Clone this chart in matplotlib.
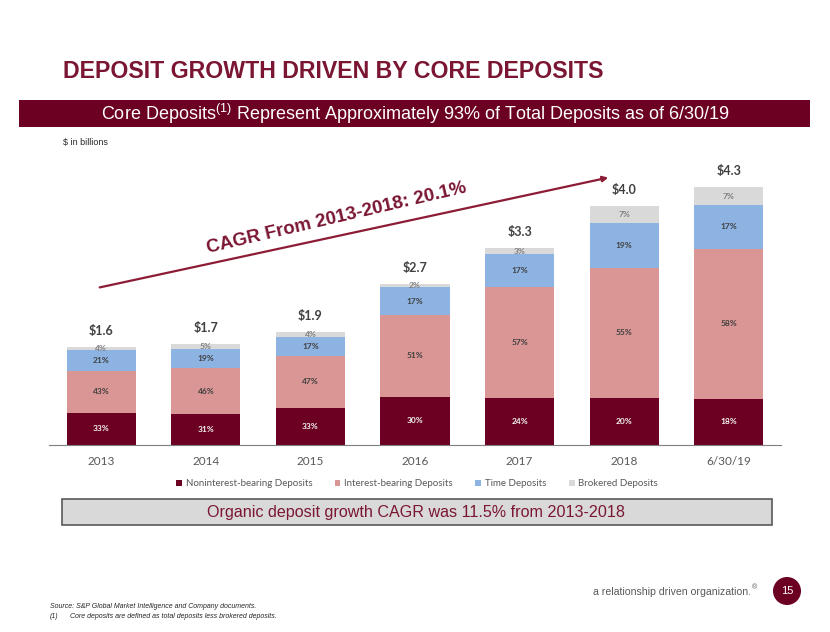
import numpy as np
import matplotlib
matplotlib.use('Agg')
import matplotlib.pyplot as plt
from matplotlib.patches import Rectangle, Ellipse, FancyArrowPatch
from matplotlib import font_manager

plt.rcParams['mathtext.fontset'] = 'custom'
plt.rcParams['mathtext.rm'] = 'Liberation Sans'
plt.rcParams['mathtext.it'] = 'Liberation Sans:italic'
plt.rcParams['mathtext.bf'] = 'Liberation Sans:bold'

# data ($ in billions, segment shares in %)
categories = ['2013', '2014', '2015', '2016', '2017', '2018', '6/30/19']
totals = [1.64, 1.68, 1.88, 2.68, 3.28, 3.98, 4.30]
noninterest = [33, 31, 33, 30, 24, 20, 18]
interest = [43, 46, 47, 51, 57, 55, 58]
time_dep = [21, 19, 17, 17, 17, 19, 17]
brokered = [4, 5, 4, 2, 3, 7, 7]
series_names = ['Noninterest-bearing Deposits', 'Interest-bearing Deposits',
                'Time Deposits', 'Brokered Deposits']

colors = ['#6B0022', '#D99694', '#8DB3E2', '#D9D9D9']
label_colors = ['#F2F2F2', '#404040', '#404040', '#808080']
MAROON = '#7A1632'
W, H = 830, 632

# narrow Arial look-alike if the system has it
names = {f.name for f in font_manager.fontManager.ttflist}
NARROW = 'Liberation Sans Narrow' if 'Liberation Sans Narrow' in names else 'Liberation Sans'
narrow = NARROW != 'Liberation Sans'


def fx(x):
    return x / W


def fy(y):
    return 1 - y / H


fig = plt.figure(figsize=(W / 100, H / 100), dpi=100)

# bar chart axes: baseline at y=445px, ~60px per $1bn
ax = fig.add_axes([fx(49), fy(445), (781 - 49) / W, 276 / H])
ax.set_xlim(-0.5, 6.5)
ax.set_ylim(0, 4.6)

shares = np.array([noninterest, interest, time_dep, brokered], dtype=float)
shares = shares / shares.sum(axis=0)
tot = np.array(totals)
x = np.arange(len(categories))
bottom = np.zeros(len(categories))
handles = []
for i in range(4):
    h = tot * shares[i]
    b = ax.bar(x, h, bottom=bottom, width=0.66, color=colors[i], label=series_names[i])
    handles.append(b)
    raw = [noninterest, interest, time_dep, brokered][i]
    for xi, bi, hi, p in zip(x, bottom, h, raw):
        ax.text(xi, bi + hi / 2, f'{p}%', ha='center', va='center', fontsize=6,
                family='Lato', fontweight='bold', color=label_colors[i])
    bottom = bottom + h

for xi, t in zip(x, tot):
    ax.annotate(f'${t:.1f}', (xi, t), xytext=(0, 7), textcoords='offset points',
                ha='center', va='bottom', fontsize=9, family='Lato',
                fontweight='bold', color='#404040')

for s in ['top', 'left', 'right']:
    ax.spines[s].set_visible(False)
ax.spines['bottom'].set_color('#7F7F7F')
ax.set_yticks([])
ax.set_xticks(x)
ax.set_xticklabels(categories, family='Lato', fontsize=8.5, color='#595959')
ax.tick_params(axis='x', length=0, pad=8)

fig.legend(handles=handles, loc='center', bbox_to_anchor=(fx(417), fy(484)), ncol=4,
           frameon=False, prop={'family': 'Lato', 'size': 7}, labelcolor='#595959',
           handlelength=0.6, handleheight=0.6, handletextpad=0.4, columnspacing=2.3)

# title + banner
fig.text(fx(63), fy(71), 'DEPOSIT GROWTH DRIVEN BY CORE DEPOSITS', family=NARROW,
         fontweight='bold', fontsize=20 if narrow else 16.7, color=MAROON,
         va='center', ha='left')
fig.patches.append(Rectangle((fx(19), fy(127)), (810 - 19) / W, 27 / H,
                             transform=fig.transFigure, facecolor='#6B0022', edgecolor='none'))
if narrow:
    plt.rcParams['mathtext.rm'] = NARROW
fig.text(fx(415), fy(114),
         r'Core Deposits$^{(1)}$ Represent Approximately 93% of Total Deposits as of 6/30/19',
         family=NARROW, fontsize=15.8 if narrow else 13, color='white',
         ha='center', va='center')
fig.text(fx(63), fy(142), '$ in billions', family=NARROW, fontsize=7.5 if narrow else 6.5,
         color='#262626', ha='left', va='center')

# CAGR arrow and text
fig.patches.append(FancyArrowPatch((fx(97), fy(288)), (fx(611), fy(177)),
                                   transform=fig.transFigure, arrowstyle='-|>',
                                   mutation_scale=8, color='#8C1C35', lw=1.6))
fig.text(fx(338), fy(223), 'CAGR From 2013-2018: 20.1%', family='Liberation Sans',
         fontweight='bold', fontsize=13.5, color=MAROON, rotation=13.2,
         rotation_mode='anchor', ha='center', va='baseline')

# organic growth box
fig.patches.append(Rectangle((fx(62), fy(525)), (772 - 62) / W, 26 / H,
                             transform=fig.transFigure, facecolor='#D9D9D9',
                             edgecolor='#595959', lw=1.2))
fig.text(fx(416), fy(512.5), 'Organic deposit growth CAGR was 11.5% from 2013-2018',
         family=NARROW, fontsize=14 if narrow else 11.6, color=MAROON,
         ha='center', va='center')

# footer
fig.text(fx(751), fy(592), 'a relationship driven organization.', family=NARROW,
         fontsize=8.9 if narrow else 7.6, color='#595959', ha='right', va='center')
fig.text(fx(752), fy(588), '®', family='Liberation Sans', fontsize=5,
         color='#595959', ha='left', va='center')
fig.patches.append(Ellipse((fx(787), fy(591)), 28 / W, 28 / H, transform=fig.transFigure,
                           facecolor='#6B0022', edgecolor='none'))
fig.text(fx(787), fy(591), '15', family=NARROW, fontsize=8, color='white',
         ha='center', va='center')
fig.text(fx(50), fy(607), 'Source: S&P Global Market Intelligence and Company documents.',
         family='Liberation Sans', fontsize=5, style='italic', color='#262626', va='center')
fig.text(fx(50), fy(617), '(1)', family='Liberation Sans', fontsize=5, style='italic',
         color='#262626', va='center')
fig.text(fx(70), fy(617), 'Core deposits are defined as total deposits less brokered deposits.',
         family='Liberation Sans', fontsize=5, style='italic', color='#262626', va='center')

fig.savefig('out.png', dpi=100)
